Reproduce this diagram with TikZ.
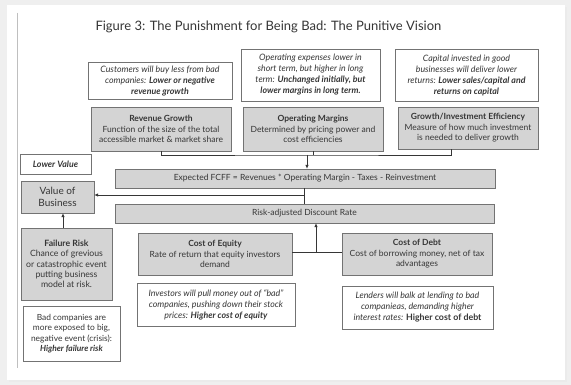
\documentclass[tikz,border=0pt]{standalone}
\usepackage{fontspec}
\setmainfont{Lato}
\usetikzlibrary{arrows.meta}
\definecolor{cardgrey}{HTML}{EFEFEF}
\definecolor{boxgrey}{HTML}{D4D4D4}
\definecolor{edgegrey}{HTML}{737373}
\definecolor{inkgrey}{HTML}{363636}
\tikzset{
  greybox/.style={draw=edgegrey,fill=boxgrey,text=inkgrey,align=center,inner sep=1pt,
    font=\fontsize{8.5}{10.4}\selectfont},
  notebox/.style={draw=edgegrey,fill=white,text=inkgrey,align=center,inner sep=1pt,
    font=\fontsize{8.8}{11}\selectfont\itshape},
  link/.style={draw=inkgrey,line width=0.7pt}
}
\begin{document}
\begin{tikzpicture}[x=1pt,y=-1pt,>={Latex[length=4pt,width=3.5pt]}]
                \fill[cardgrey] (0,0) rectangle (571,385);
                \fill[black!8] (9,7) rectangle (567,382);
                \fill[white] (7,5) rectangle (565,380);
                \draw[black!25,line width=0.8pt] (17,13) -- (17,368);
                \useasboundingbox (0,0) rectangle (571,385);
                \node[anchor=west,text=inkgrey,font=\fontsize{13}{15}\selectfont] (title) at (92,27)
                  {Figure 3: The Punishment for Being Bad: The Punitive Vision};
                % why bad companies are punished
                \node[notebox,minimum width=144pt,minimum height=37pt] (custnote) at (160,81)
                  {Customers will buy less from bad\\companies: \textbf{Lower or negative}\\\textbf{revenue growth}};
                \node[notebox,minimum width=139pt,minimum height=52pt] (opexnote) at (310.5,75)
                  {Operating expenses lower in\\short term, but higher in long\\term: \textbf{Unchanged initially, but}\\\textbf{lower margins in long term.}};
                \node[notebox,minimum width=143pt,minimum height=52pt] (capnote) at (466.5,75)
                  {Capital invested in good\\businesses will deliver lower\\returns: \textbf{Lower sales/capital and}\\\textbf{returns on capital}};
                % value drivers
                \node[greybox,minimum width=140pt,minimum height=44pt] (revgrowth) at (161,129)
                  {\textbf{Revenue Growth}\\Function of the size of the total\\accessible market \& market share};
                \node[greybox,minimum width=140pt,minimum height=44pt] (opmargin) at (313,129)
                  {\textbf{Operating Margins}\\Determined by pricing power and\\cost efficiencies};
                \node[greybox,minimum width=140pt,minimum height=42pt] (growtheff) at (468,128)
                  {\textbf{Growth/Investment Efficiency}\\Measure of how much investment\\is needed to deliver growth};
                \node[greybox,minimum width=380pt,minimum height=19pt] (fcff) at (305,178.5)
                  {Expected FCFF = Revenues * Operating Margin - Taxes - Reinvestment};
                \node[greybox,minimum width=379pt,minimum height=19pt] (discount) at (304.5,213.5)
                  {Risk-adjusted Discount Rate};
                % left column
                \node[notebox,minimum width=71pt,minimum height=20pt] (lowervalue) at (55.5,164)
                  {\textbf{Lower Value}};
                \node[greybox,minimum width=73pt,minimum height=32pt,font=\fontsize{10}{12.5}\selectfont] (valuebiz) at (57.5,197)
                  {Value of\\Business};
                \node[greybox,minimum width=91pt,minimum height=72pt,font=\fontsize{8.7}{10.3}\selectfont] (failrisk) at (66.5,264)
                  {\textbf{Failure Risk}\\Chance of grevious\\or catastrophic event\\putting business\\model at risk.};
                \node[notebox,minimum width=97pt,minimum height=55pt,font=\fontsize{8.4}{10.4}\selectfont] (badnote) at (71.5,333.5)
                  {Bad companies are\\more exposed to big,\\negative event (crisis):\\\textbf{\itshape Higher failure risk}};
                % cost of capital
                \node[greybox,minimum width=154pt,minimum height=42pt] (costeq) at (215,254)
                  {\textbf{Cost of Equity}\\Rate of return that equity investors\\demand};
                \node[greybox,minimum width=150pt,minimum height=42pt] (costdebt) at (417,254)
                  {\textbf{Cost of Debt}\\Cost of borrowing money, net of tax\\advantages};
                \node[notebox,minimum width=158pt,minimum height=43pt] (eqnote) at (216,304.5)
                  {Investors will pull money out of ``bad''\\companies, pushing down their stock\\prices: \textbf{Higher cost of equity}};
                \node[notebox,minimum width=151pt,minimum height=43pt] (debtnote) at (417.5,307.5)
                  {Lenders will balk at lending to bad\\companieas, demanding higher\\interest rates: \textbf{\upshape Higher cost of debt}};
                % connectors
                \coordinate (topbus) at (307,155);
                \coordinate (midbus) at (304,195);
                \coordinate (lowbus) at (316,252);
                \coordinate (riskx) at (63,0);
                \draw[link] (revgrowth.south) |- (topbus) -| ([xshift=-17pt]growtheff.south);
                \draw[link] (opmargin.south) -- (opmargin.south |- topbus);
                \draw[link,->] (topbus) -- (fcff.north -| topbus);
                \draw[link] (fcff.south -| midbus) -- (discount.north -| midbus);
                \draw[link,->] (midbus) -- (valuebiz.east |- midbus);
                \draw[link] (costeq.east |- lowbus) -- (costdebt.west |- lowbus);
                \draw[link,->] (lowbus) -- (discount.south -| lowbus);
                \draw[link,->] (failrisk.north -| riskx) -- (valuebiz.south -| riskx);
            \end{tikzpicture}
\end{document}
